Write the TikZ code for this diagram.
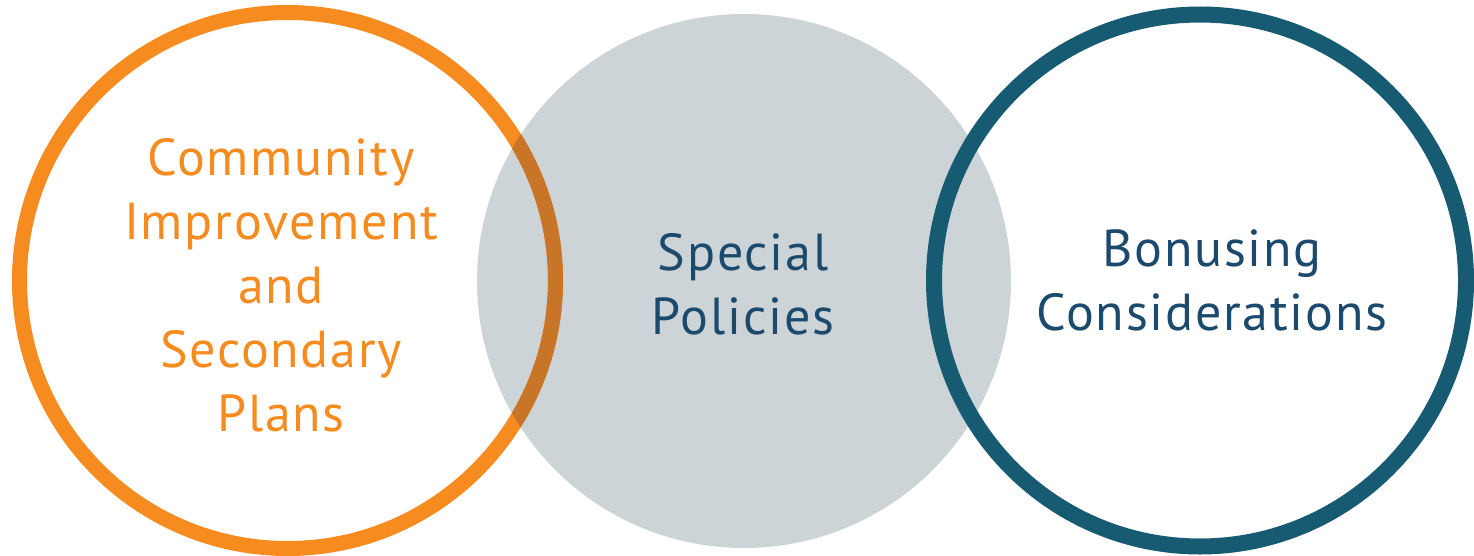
\documentclass[tikz,border=0pt]{standalone}
\usepackage{fontspec}
\setmainfont[LetterSpace=3.4]{PT Sans}
\definecolor{orng}{HTML}{F68B1F}
\definecolor{orngdark}{HTML}{C87527}
\definecolor{grayc}{HTML}{CDD4D8}
\definecolor{ringblue}{HTML}{175B73}
\definecolor{textblue}{HTML}{1B4A6D}
\begin{document}
\begin{tikzpicture}[x=1pt,y=-1pt,
  lbl/.style={font=\fontsize{52}{64}\selectfont, align=center, inner sep=0pt}]
\useasboundingbox (0,0) rectangle (1474,556);
\fill[grayc] (744,281) circle (267);
\draw[orng, line width=15pt] (287.5,280.5) circle (268);
\begin{scope}
  \clip (744,281) circle (267);
  \draw[orngdark, line width=15pt] (287.5,280.5) circle (268);
\end{scope}
\draw[ringblue, line width=16pt] (1200,280.5) circle (266);
\node[lbl, text=orng] (left) at (281,285) {Community\\Improvement\\and\\Secondary\\Plans};
\node[lbl, text=textblue] (mid) at (743,284) {Special\\Policies};
\node[lbl, text=textblue] (right) at (1212,280) {Bonusing\\Considerations};
\end{tikzpicture}
\end{document}
